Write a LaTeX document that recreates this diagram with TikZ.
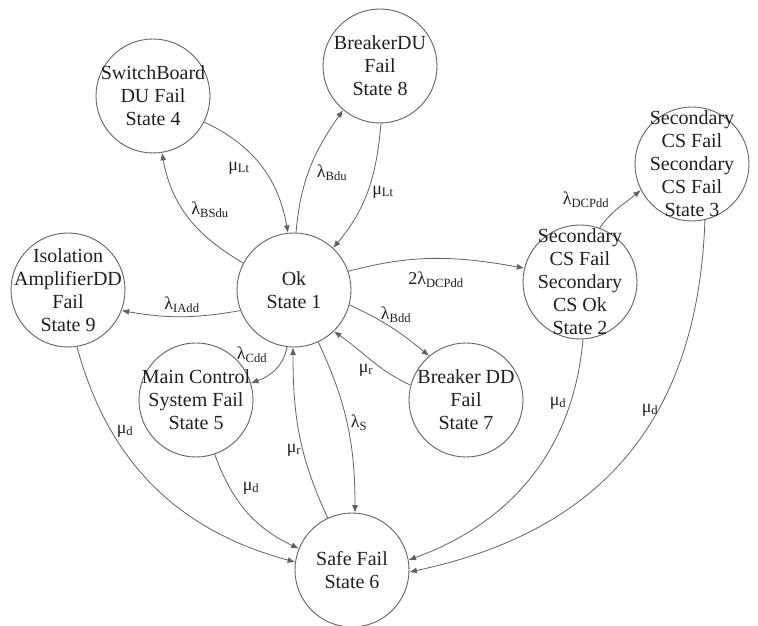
\documentclass[tikz,border=0pt]{standalone}
\usepackage{fontspec}
\setmainfont{Liberation Serif}
\usetikzlibrary{arrows.meta}
\begin{document}
\begin{tikzpicture}[x=1pt,y=1pt,
 st/.style={circle,draw=black!62,line width=0.9pt,minimum size=114pt,inner sep=0pt},
 tx/.style={align=center,font=\fontsize{20}{23}\selectfont,text=black!88,inner sep=0pt},
 lab/.style={font=\fontsize{18}{20}\selectfont,text=black!88,inner sep=0pt},
 ar/.style={draw=black!62,line width=0.8pt,-{Latex[length=7.5pt,width=6pt]}}]
\useasboundingbox (0,0) rectangle (758,626);
% states
\node[st] (s1) at (294,336) {};
\node[st] (s4) at (153,530) {};
\node[st] (s8) at (380,560) {};
\node[st] (s3) at (692,462) {};
\node[st] (s2) at (580,344) {};
\node[st] (s9) at (68,336) {};
\node[st] (s5) at (196,226) {};
\node[st] (s7) at (466,226) {};
\node[st] (s6) at (352,56) {};
\node[tx] (t1) at (s1) {Ok\\State 1};
\node[tx] (t4) at (s4) {SwitchBoard\\DU Fail\\State 4};
\node[tx] (t8) at (s8) {BreakerDU\\Fail\\State 8};
\node[tx] (t3) at (s3) {Secondary\\CS Fail\\Secondary\\CS Fail\\State 3};
\node[tx] (t2) at (s2) {Secondary\\CS Fail\\Secondary\\CS Ok\\State 2};
\node[tx] (t9) at (s9) {Isolation\\AmplifierDD\\Fail\\State 9};
\node[tx] (t5) at (s5) {Main Control\\System Fail\\State 5};
\node[tx] (t7) at (s7) {Breaker DD\\Fail\\State 7};
\node[tx] (t6) at (s6) {Safe Fail\\State 6};
% transitions
\draw[ar] (s1.152) to[out=150,in=-80] (s4.279);
\draw[ar] (s4.333) to[out=-25,in=100] (s1.96);
\draw[ar] (s1.88) to[out=85,in=235] (s8.230);
\draw[ar] (s8.271) to[out=-95,in=50] (s1.47);
\draw[ar] (s1.19) to[out=15,in=170] (s2.166);
\draw[ar] (s2.70) to[out=55,in=220] (s3.207);
\draw[ar] (s1.201) to[out=190,in=-10] (s9.339);
\draw[ar] (s1.263) to[out=-100,in=20] (s5.17);
\draw[ar] (s1.-15) to[out=-25,in=140] (s7.130);
\draw[ar] (s7.165) to[out=155,in=-35] (s1.-46);
\draw[ar] (s1.-65) to[out=-65,in=90] (s6.87);
\draw[ar] (s6.115) to[out=115,in=-90] (s1.269);
\draw[ar] (s5.-71) to[out=-70,in=155] (s6.158);
\draw[ar] (s9.-81) to[out=-75,in=165] (s6.172);
\draw[ar] (s2.-87) to[out=-95,in=20] (s6.10);
\draw[ar] (s3.-77) to[out=-92,in=12,looseness=1.1] (s6.-2);
% rate labels
\node[lab] (l1) at (210,416) {λ\textsubscript{BSdu}};
\node[lab] (l2) at (239,458) {μ\textsubscript{Lt}};
\node[lab] (l3) at (332,453) {λ\textsubscript{Bdu}};
\node[lab] (l4) at (383,434) {μ\textsubscript{Lt}};
\node[lab] (l5) at (436,346) {2λ\textsubscript{DCPdd}};
\node[lab] (l6) at (586,426) {λ\textsubscript{DCPdd}};
\node[lab] (l7) at (182,321) {λ\textsubscript{IAdd}};
\node[lab] (l8) at (252,271) {λ\textsubscript{Cdd}};
\node[lab] (l9) at (396,311) {λ\textsubscript{Bdd}};
\node[lab] (l10) at (366,256) {μ\textsubscript{r}};
\node[lab] (l11) at (359,203) {λ\textsubscript{S}};
\node[lab] (l12) at (294,176) {μ\textsubscript{r}};
\node[lab] (l13) at (251,138) {μ\textsubscript{d}};
\node[lab] (l14) at (125,195) {μ\textsubscript{d}};
\node[lab] (l15) at (558,223) {μ\textsubscript{d}};
\node[lab] (l16) at (650,216) {μ\textsubscript{d}};
\end{tikzpicture}
\end{document}
